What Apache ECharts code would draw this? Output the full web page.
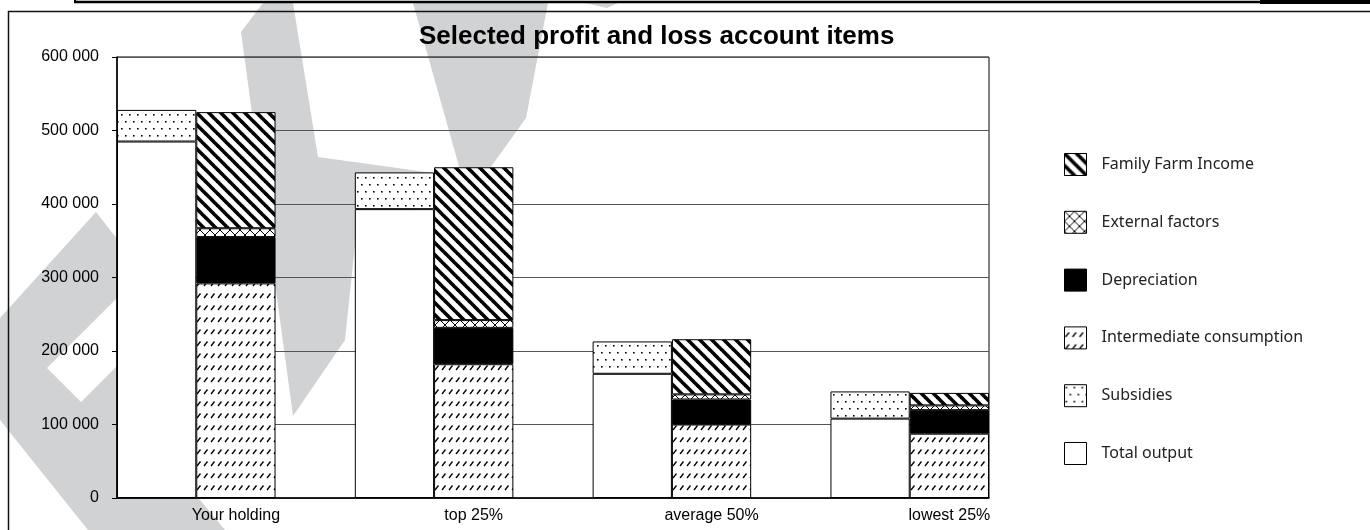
<!DOCTYPE html>
<html>
<head>
<meta charset="utf-8">
<script src="https://cdn.jsdelivr.net/npm/echarts@6/dist/echarts.min.js"></script>
<style>
  html, body { margin: 0; padding: 0; background: #fff; }
  #chart { width: 1370px; height: 530px; }
</style>
</head>
<body>
<div id="chart"></div>
<script>
// groups on the x axis, each one gets a left bar (output) and a right bar (costs)
const groups = ['Your holding', 'top 25%', 'average 50%', 'lowest 25%'];
const totalOutput = [485000, 393000, 169000, 108000];
const subsidies = [43000, 50000, 44000, 37000];
const intermediateConsumption = [292000, 182000, 100000, 87500];
const depreciation = [63000, 49500, 34000, 32000];
const externalFactors = [12000, 10500, 7000, 6500];
const familyFarmIncome = [158000, 208000, 75000, 17000];
const yTicks = [0, 100000, 200000, 300000, 400000, 500000, 600000];
const legendOrder = ['Family Farm Income', 'External factors', 'Depreciation',
  'Intermediate consumption', 'Subsidies', 'Total output'];

// 3 slots per group: left bar, right bar, gap (no gap after the last one)
const slotCount = groups.length * 3 - 1;
const slots = [];
for (let s = 0; s < slotCount; s++) slots.push('s' + s);
const slotLabel = i => (i % 3 === 1 ? groups[(i - 1) / 3] : '');

function leftSlots(arr) {
  const out = new Array(slotCount).fill('-');
  arr.forEach((v, i) => { out[i * 3] = v; });
  return out;
}
function rightSlots(arr) {
  const out = new Array(slotCount).fill('-');
  arr.forEach((v, i) => { out[i * 3 + 1] = v; });
  return out;
}

// black and white fill patterns like the old excel ones
function makePattern(w, h, draw) {
  const c = document.createElement('canvas');
  c.width = w; c.height = h;
  const g = c.getContext('2d');
  g.fillStyle = '#fff';
  g.fillRect(0, 0, w, h);
  g.fillStyle = '#000';
  g.strokeStyle = '#000';
  draw(g, w, h);
  return { image: c, repeat: 'repeat' };
}
const stripePattern = makePattern(12, 12, g => {
  g.lineWidth = 3.6;
  [-12, 0, 12].forEach(k => {
    g.beginPath(); g.moveTo(k - 2, -2); g.lineTo(k + 14, 14); g.stroke();
  });
});
const crossPattern = makePattern(10, 10, g => {
  g.lineWidth = 1;
  g.beginPath(); g.moveTo(0, 0); g.lineTo(10, 10); g.stroke();
  g.beginPath(); g.moveTo(0, 10); g.lineTo(10, 0); g.stroke();
});
const dashPattern = makePattern(7, 12, g => {
  g.lineWidth = 1.3;
  g.beginPath(); g.moveTo(1, 10); g.lineTo(4.5, 5.5); g.stroke();
});
const dotPattern = makePattern(8, 14, g => {
  g.fillRect(1, 2, 1.6, 1.6);
  g.fillRect(5, 9, 1.6, 1.6);
});

const fmt = v => String(v).replace(/\B(?=(\d{3})+(?!\d))/g, ' ');
const axisFont = '"Liberation Sans", Arial, sans-serif';

const barBase = {
  type: 'bar',
  stack: 'total',
  barWidth: '100%',
  barCategoryGap: '0%',
  emphasis: { disabled: true },
  itemStyle: { borderColor: '#000', borderWidth: 1 }
};

const gray = '#d1d2d4';
const watermark = [
  // big K-like shape
  [[263, 3], [293, 3], [318, 157], [462, 177], [413, 3], [548, 3], [526, 118], [480, 182],
   [356, 235], [345, 340], [293, 416], [241, 32]],
  [[585, 3], [618, 3], [607, 8]],
  // chevron on the left
  [[96, 212], [140, 268], [150, 290], [150, 440], [225, 530], [88, 530], [0, 420], [0, 318]]
];

const chart = echarts.init(document.getElementById('chart'));
chart.setOption({
  animation: false,
  backgroundColor: '#fff',
  title: {
    text: 'Selected profit and loss account items',
    left: 419,
    top: 24,
    padding: 0,
    textStyle: { fontFamily: axisFont, fontSize: 26, fontWeight: 'bold', color: '#000' }
  },
  legend: {
    data: legendOrder,
    orient: 'vertical',
    left: 1059,
    top: 148,
    itemWidth: 22,
    itemHeight: 22,
    itemGap: 34.8,
    icon: 'rect',
    selectedMode: false,
    itemStyle: { borderColor: '#000', borderWidth: 1 },
    textStyle: { fontFamily: '"Noto Sans", sans-serif', fontSize: 16, color: '#222', padding: [0, 0, 0, 10] }
  },
  grid: {
    left: 117, right: 381, top: 57, bottom: 32,
    show: true, borderColor: '#000', borderWidth: 1, backgroundColor: 'transparent'
  },
  xAxis: {
    type: 'category',
    data: slots,
    axisLine: { lineStyle: { color: '#000', width: 1.5 } },
    axisTick: { interval: 0, length: 5, lineStyle: { color: '#000' } },
    axisLabel: {
      interval: 0, margin: 10, color: '#000', fontFamily: axisFont, fontSize: 16,
      formatter: (v, i) => slotLabel(i)
    }
  },
  yAxis: {
    type: 'value',
    min: yTicks[0],
    max: yTicks[yTicks.length - 1],
    interval: yTicks[1] - yTicks[0],
    axisLine: { show: true, lineStyle: { color: '#000', width: 1.5 } },
    axisTick: { show: true, length: 5, lineStyle: { color: '#000' } },
    axisLabel: { margin: 18, color: '#000', fontFamily: axisFont, fontSize: 16, formatter: fmt },
    splitLine: { lineStyle: { color: '#555', width: 1 } }
  },
  graphic: [
    ...watermark.map(pts => ({
      type: 'polygon', z: -10, silent: true,
      shape: { points: pts }, style: { fill: gray }
    })),
    {
      type: 'polygon', z: -9, silent: true,
      shape: { points: [[47, 368], [117, 298], [117, 366], [81, 402]] },
      style: { fill: '#fff' }
    },
    { type: 'rect', z: 10, silent: true, shape: { x: 8.5, y: 11.5, width: 1400, height: 600 },
      style: { fill: 'none', stroke: '#111', lineWidth: 1.5 } },
    { type: 'rect', z: 10, silent: true, shape: { x: 74, y: 0.8, width: 1190, height: 2.4 }, style: { fill: '#000' } },
    { type: 'rect', z: 10, silent: true, shape: { x: 74, y: 0, width: 2.2, height: 3 }, style: { fill: '#000' } },
    { type: 'rect', z: 10, silent: true, shape: { x: 1260, y: 0, width: 110, height: 4 }, style: { fill: '#000' } }
  ],
  series: [
    { ...barBase, name: 'Total output', data: leftSlots(totalOutput), color: '#fff' },
    { ...barBase, name: 'Subsidies', data: leftSlots(subsidies), color: dotPattern },
    { ...barBase, name: 'Intermediate consumption', data: rightSlots(intermediateConsumption), color: dashPattern },
    { ...barBase, name: 'Depreciation', data: rightSlots(depreciation), color: '#000' },
    { ...barBase, name: 'External factors', data: rightSlots(externalFactors), color: crossPattern },
    { ...barBase, name: 'Family Farm Income', data: rightSlots(familyFarmIncome), color: stripePattern }
  ]
});
</script>
</body>
</html>
